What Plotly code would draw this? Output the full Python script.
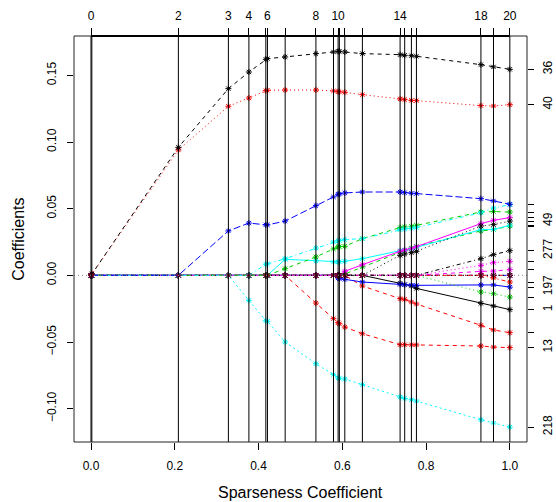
import plotly.graph_objects as go

# ---- data -------------------------------------------------------------
steps = [0.0, 0.002, 0.2086, 0.328, 0.377, 0.4174, 0.4213, 0.4636, 0.537, 0.579,
         0.590, 0.593, 0.606, 0.648, 0.738, 0.749, 0.765, 0.777, 0.931, 0.961, 1.0]
step_labels = ["0", "", "2", "3", "4", "", "6", "", "8", "", "10", "", "", "",
               "14", "", "", "", "18", "", "20"]

x_ticks = [0.0, 0.2, 0.4, 0.6, 0.8, 1.0]
x_tick_labels = ["0.0", "0.2", "0.4", "0.6", "0.8", "1.0"]
y_ticks = [-0.10, -0.05, 0.0, 0.05, 0.10, 0.15]
y_tick_labels = ["\u22120.10", "\u22120.05", "0.00", "0.05", "0.10", "0.15"]

v36 = [0, 0.0009, 0.0960, 0.1400, 0.1525, 0.1620, 0.1625, 0.1638, 0.1663, 0.1675, 0.1680,
       0.1680, 0.1675, 0.1663, 0.1655, 0.1650, 0.1647, 0.1643, 0.1580, 0.1563, 0.1545]
v40 = [0, 0.0009, 0.0940, 0.1268, 0.1330, 0.1385, 0.1388, 0.1390, 0.1390, 0.1383, 0.1378,
       0.1376, 0.1373, 0.1355, 0.1323, 0.1318, 0.1312, 0.1310, 0.1273, 0.1270, 0.1280]
v_blue_top = [0, 0, 0, 0.0333, 0.0392, 0.0379, 0.0378, 0.0407, 0.0523, 0.0588, 0.0608,
              0.0610, 0.0618, 0.0625, 0.0625, 0.0620, 0.0616, 0.0613, 0.0575, 0.0558, 0.0533]
v218 = [0, 0, 0, 0, -0.0188, -0.0340, -0.0345, -0.0500, -0.0663, -0.0745, -0.0770,
        -0.0772, -0.0778, -0.0820, -0.0913, -0.0923, -0.0933, -0.0943, -0.1083, -0.1108, -0.1138]
v13 = [0, 0, 0, 0, 0, 0, 0, 0, -0.0208, -0.0325, -0.0355, -0.0363, -0.0388, -0.0438,
       -0.0520, -0.0520, -0.0521, -0.0522, -0.0530, -0.0538, -0.0542]
v_red2 = [0, 0, 0, 0, 0, 0, 0, 0, 0, 0, 0, 0, 0, -0.0080, -0.0175, -0.0180, -0.0200,
          -0.0215, -0.0375, -0.0410, -0.0430]
v_cyan_up = [0, 0, 0, 0, 0, 0.0083, 0.0086, 0.0125, 0.0205, 0.0250, 0.0258, 0.0260,
             0.0268, 0.0275, 0.0343, 0.0348, 0.0353, 0.0358, 0.0470, 0.0505, 0.0530]
v_green_up = [0, 0, 0, 0, 0, 0, 0, 0.0050, 0.0138, 0.0198, 0.0213, 0.0215, 0.0218, 0.0275,
              0.0358, 0.0363, 0.0368, 0.0375, 0.0475, 0.0478, 0.0475]
v_cyan_low = [0, 0, 0, 0, 0, 0, 0, 0.0120, 0.0108, 0.0100, 0.0100, 0.0102, 0.0105, 0.0125,
              0.0185, 0.0190, 0.0198, 0.0210, 0.0343, 0.0345, 0.0375]
v_green_low = [0, 0, 0, 0, 0, 0, 0, 0, 0, 0, 0, 0, 0.0010, 0.0063, 0.0175, 0.0188, 0.0205,
               0.0218, 0.0333, 0.0343, 0.0370]
v_magenta = [0, 0, 0, 0, 0, 0, 0, 0, 0, 0, 0, 0, 0.0030, 0.0080, 0.0180, 0.0190, 0.0200,
             0.0215, 0.0388, 0.0413, 0.0433]
v49 = [0, 0, 0, 0, 0, 0, 0, 0, 0, 0, 0, 0, 0, 0, 0.0150, 0.0160, 0.0170, 0.0180,
       0.0370, 0.0380, 0.0407]
v277 = [0, 0, 0, 0, 0, 0, 0, 0, 0, 0, 0, 0, 0, 0, 0, 0, 0, 0, 0.0125, 0.0155, 0.0185]
v_mag_dot = [0, 0, 0, 0, 0, 0, 0, 0, 0, 0, 0, 0, 0, 0, 0, 0, 0, 0, 0.0075, 0.0095, 0.0105]
v_mag_dash = [0, 0, 0, 0, 0, 0, 0, 0, 0, 0, 0, 0, 0, 0, 0, 0, 0, 0, 0.0030, 0.0032, 0.0043]
v_green_neg = [0, 0, 0, 0, 0, 0, 0, 0, 0, 0, 0, 0, 0, 0, 0, 0, 0, 0, -0.0125, -0.0138, -0.0163]
v197 = [0, 0, 0, 0, 0, 0, 0, 0, 0, 0, -0.0020, -0.0025, -0.0030, -0.0050, -0.0068,
        -0.0070, -0.0073, -0.0075, -0.0072, -0.0072, -0.0088]
v1 = [0, 0, 0, 0, 0, 0, 0, 0, 0, 0, 0, 0, 0, 0, -0.0060, -0.0070, -0.0080, -0.0098,
      -0.0210, -0.0230, -0.0257]
v_red_small = [0, 0, 0, 0, 0, 0, 0, 0, 0, 0, 0, 0, 0, 0, 0, 0, 0, 0, 0, -0.0020, -0.0050]
v_zero = [0] * len(steps)

# ---- styles -----------------------------------------------------------
BLACK, RED, GREEN, BLUE, CYAN, MAGENTA = "#000000", "#FF0000", "#00CD00", "#0000FF", "#00FFFF", "#FF00FF"
DASH, DOT, DOTDASH, LONGDASH = "4px,4px", "1px,3px", "1px,3px,4px,3px", "7px,3px"

series = [
    (v_zero, RED, DASH, None),
    (v_zero, BLUE, DOTDASH, None),
    (v_zero, BLACK, DOT, None),
    (v218, CYAN, "2px,3px", "218"),
    (v13, RED, DASH, "13"),
    (v_red2, RED, DASH, None),
    (v1, BLACK, "solid", "1"),
    (v197, BLUE, "solid", "197"),
    (v_green_neg, GREEN, DOT, None),
    (v_red_small, RED, DOTDASH, None),
    (v_mag_dash, MAGENTA, DASH, None),
    (v_mag_dot, MAGENTA, DOT, None),
    (v277, BLACK, DOTDASH, "277"),
    (v_green_low, GREEN, DASH, None),
    (v_cyan_low, CYAN, "solid", None),
    (v_magenta, MAGENTA, "solid", None),
    (v49, BLACK, DOT, "49"),
    (v_green_up, GREEN, DASH, None),
    (v_cyan_up, CYAN, DOTDASH, None),
    (v_blue_top, BLUE, LONGDASH, None),
    (v40, RED, DOT, "40"),
    (v36, BLACK, DASH, "36"),
]

fig = go.Figure()
for vals, col, dash, name in series:
    fig.add_trace(go.Scatter(
        x=steps, y=vals, mode="lines+markers",
        line=dict(color=col, width=1, dash=dash),
        marker=dict(symbol="asterisk-open", size=5, color=col,
                    line=dict(color=col, width=1)),
        showlegend=False, hoverinfo="skip"))

# zero-valued markers on top (pile of stars along 0)
fig.add_trace(go.Scatter(
    x=steps, y=v_zero, mode="markers",
    marker=dict(symbol="asterisk-open", size=5, color="#8B0030",
                line=dict(color="#8B0030", width=1)),
    showlegend=False, hoverinfo="skip"))

# dummy trace for top / right axes
fig.add_trace(go.Scatter(x=[steps[0], steps[-1]], y=[0, 0], xaxis="x2", yaxis="y2",
                         mode="markers", marker=dict(opacity=0), showlegend=False,
                         hoverinfo="skip"))

finals = []
final_labels = []
for vals, col, dash, name in series:
    if vals[-1] != 0:
        finals.append(vals[-1])
        final_labels.append(name if name else "")

XR = [-0.0406, 1.041]
YR = [-0.125, 0.1795]
font = dict(family="Liberation Sans, Arial, sans-serif", size=12, color="black")
title_font = dict(family="Liberation Sans, Arial, sans-serif", size=16, color="black")

shapes = []
for s in steps:
    shapes.append(dict(type="line", xref="x", yref="paper", x0=s, x1=s, y0=0, y1=1,
                       line=dict(color="black", width=1), layer="above"))
shapes.append(dict(type="line", xref="paper", yref="y", x0=0, x1=1, y0=0, y1=0,
                   line=dict(color="#888888", width=1, dash="1px,3px"), layer="above"))
shapes.append(dict(type="rect", xref="paper", yref="paper", x0=0, x1=1, y0=0, y1=1,
                   line=dict(color="#222222", width=1), layer="above"))
shapes.append(dict(type="line", xref="x", yref="paper", x0=0, x1=1, y0=1, y1=1,
                   line=dict(color="black", width=2), layer="above"))

common = dict(showgrid=False, zeroline=False, showline=False, automargin=False,
              tickcolor="black", tickfont=font, ticks="outside")

fig.update_layout(
    width=556, height=502,
    margin=dict(l=74, r=29, t=36, b=60, autoexpand=False),
    plot_bgcolor="white", paper_bgcolor="white",
    font=font,
    shapes=shapes,
    xaxis=dict(range=XR, tickvals=x_ticks, ticktext=x_tick_labels, ticklen=7,
               ticklabelstandoff=6, **common),
    xaxis2=dict(range=XR, overlaying="x", side="top", tickvals=steps,
                ticktext=step_labels, ticklen=7, ticklabelstandoff=3, **common),
    yaxis=dict(range=YR, tickvals=y_ticks, ticktext=y_tick_labels, ticklen=6,
               tickangle=-90, ticklabelstandoff=6, **common),
    yaxis2=dict(range=YR, overlaying="y", side="right", tickvals=finals,
                ticktext=final_labels, ticklen=6, tickangle=-90, ticklabelstandoff=4,
                **common),
    annotations=[
        dict(text="Sparseness Coefficient", xref="paper", yref="paper", x=0.5,
             y=-0.124, xanchor="center", yanchor="middle", showarrow=False,
             font=title_font),
        dict(text="Coefficients", xref="paper", yref="paper", x=-0.124, y=0.5,
             xanchor="center", yanchor="middle", textangle=-90, showarrow=False,
             font=title_font),
    ],
)

fig.write_html(
    "out.html",
    config={"displayModeBar": False},
    post_script="document.body.style.margin='0';document.body.style.overflow='hidden';",
)
